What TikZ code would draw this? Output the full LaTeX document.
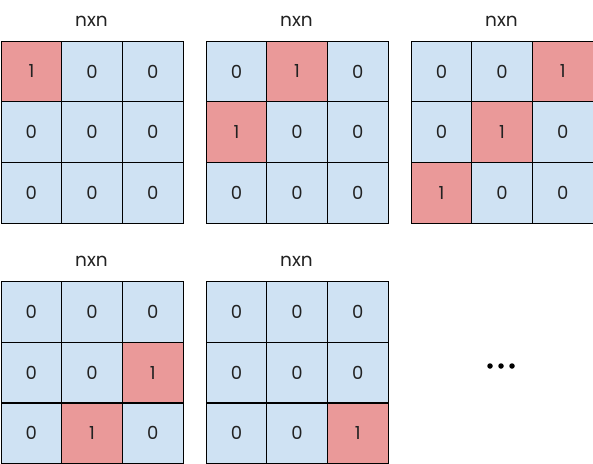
\documentclass[tikz,border=0pt]{standalone}
\usepackage{fontspec}
\setmainfont{Poppins}
\definecolor{cellblue}{HTML}{CFE2F3}
\definecolor{cellred}{HTML}{EA9999}
\definecolor{textgray}{HTML}{222222}
\begin{document}
\begin{tikzpicture}[x=1pt,y=-1pt,
  cell/.style={draw=black, line width=1.1pt, fill=cellblue, minimum size=60.7pt, inner sep=0pt, anchor=north west, font=\fontsize{18}{18}\selectfont, text=textgray},
  hot/.style={fill=cellred},
  title/.style={font=\fontsize{18.5}{18.5}\selectfont, text=textgray, inner sep=0pt},
  dot/.style={circle, fill=black, minimum size=5.5pt, inner sep=0pt}]
\useasboundingbox[fill=white] (0,0) rectangle (593,463);
\foreach \g/\ox/\oy in {1/0.5/40.5,2/205.5/40.5,3/410.5/40.5,4/0.5/281,5/205.5/281} {
  \node[title] (t\g) at (\ox+91,\oy-19.5) {nxn};
  \foreach \r in {1,2,3} {
    \foreach \c in {1,2,3} {
      \pgfmathtruncatemacro\s{\r+\c}
      \pgfmathtruncatemacro\gg{\g+1}
      \ifnum\s=\gg
        \node[cell,hot] (g\g-\r-\c) at (\ox+\c*60.7-60.7,\oy+\r*60.7-60.7) {1};
      \else
        \node[cell] (g\g-\r-\c) at (\ox+\c*60.7-60.7,\oy+\r*60.7-60.7) {0};
      \fi
    }
  }
}
\node[dot] (d1) at (490,366) {};
\node[dot] (d2) at (501,366) {};
\node[dot] (d3) at (512,366) {};
\end{tikzpicture}
\end{document}
